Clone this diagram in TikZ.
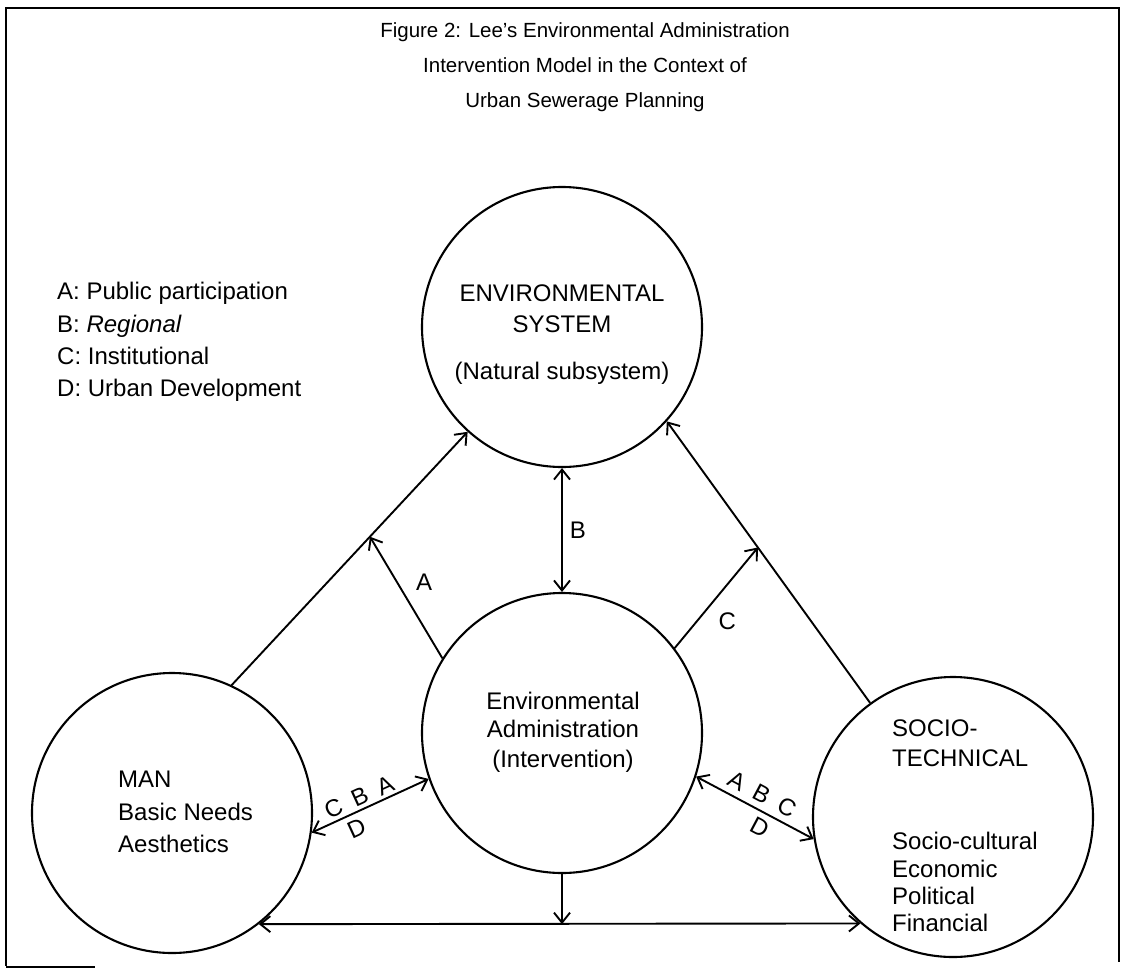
\documentclass[tikz,border=0pt]{standalone}
\usepackage{fontspec}
\setmainfont{Liberation Sans}
\usetikzlibrary{arrows.meta,calc}
\begin{document}
\begin{tikzpicture}[x=1pt,y=-1pt,
  circ/.style={circle, draw, line width=2.1pt, minimum size=280pt, inner sep=0pt},
  conn/.style={line width=1.9pt},
  tip/.tip={Straight Barb[length=10pt,width=16pt]},
  arr/.style={conn, -tip},
  dbl/.style={conn, tip-tip},
  txt/.style={font=\fontsize{24}{28}\selectfont, inner sep=0pt},
  ttl/.style={font=\fontsize{20.5}{24}\selectfont, inner sep=0pt, anchor=base},
  lbl/.style={font=\fontsize{24}{28}\selectfont, inner sep=1pt},
  frame/.style={line width=1.6pt}
]
\useasboundingbox (0,0) rectangle (1123,971);
% frame
\draw[frame] (6,966) -- (6,8) -- (1119,8) -- (1119,962);
\draw[frame] (6,967) -- (95,967);
% title
\node[ttl] (title1) at (585,38) {Figure 2: Lee's Environmental Administration};
\node[ttl] (title2) at (585,73) {Intervention Model in the Context of};
\node[ttl] (title3) at (585,108) {Urban Sewerage Planning};
% legend
\node[txt, anchor=base west] (leg1) at (57,299) {A: Public participation};
\node[txt, anchor=base west] (leg2) at (57,332) {B: \textit{Regional}};
\node[txt, anchor=base west] (leg3) at (57,364) {C: Institutional};
\node[txt, anchor=base west] (leg4) at (57,396) {D: Urban Development};
% circles
\node[circ] (top) at (562,327) {};
\node[circ] (adm) at (562,733) {};
\node[circ] (man) at (172,813) {};
\node[circ] (soc) at (953,817) {};
% circle texts
\node[txt, anchor=base] (env1) at (562,301) {ENVIRONMENTAL};
\node[txt, anchor=base] (env2) at (562,332) {SYSTEM};
\node[txt, anchor=base] (env3) at (562,379) {(Natural subsystem)};
\node[txt, anchor=base] (adm1) at (563,709) {Environmental};
\node[txt, anchor=base] (adm2) at (563,737) {Administration};
\node[txt, anchor=base] (adm3) at (563,767) {(Intervention)};
\node[txt, anchor=base west] (man1) at (118,787) {MAN};
\node[txt, anchor=base west] (man2) at (118,820) {Basic Needs};
\node[txt, anchor=base west] (man3) at (118,852) {Aesthetics};
\node[txt, anchor=base west] (soc1) at (892,736) {SOCIO-};
\node[txt, anchor=base west] (soc2) at (892,766) {TECHNICAL};
\node[txt, anchor=base west] (soc3) at (892,849) {Socio-cultural};
\node[txt, anchor=base west] (soc4) at (892,877) {Economic};
\node[txt, anchor=base west] (soc5) at (892,904) {Political};
\node[txt, anchor=base west] (soc6) at (892,931) {Financial};
% connectors
\draw[arr] (man.65.3) -- (top.228.4) coordinate[pos=0.586] (pa);
\draw[arr] (soc.126) -- (top.-42.4) coordinate[pos=0.552] (pc);
\draw[arr] (adm.148.4) -- (pa) node[lbl, pos=0.5, xshift=18pt, yshift=15pt] (la) {A};
\draw[arr] (adm.37.8) -- (pc) node[lbl, pos=0.5, xshift=11pt, yshift=-23pt] (lc) {C};
\draw[dbl] (top.south) -- (adm.north) node[lbl, midway, right=6pt] (lb) {B};
\draw[dbl] (man.-8.1) -- (adm.199.6)
  node[lbl, sloped, pos=0.45, above=2pt] (lcba) {C\hspace{0.5em}B\hspace{0.5em}A}
  node[lbl, sloped, pos=0.33, below=5pt] (ld1) {D};
\draw[dbl] (adm.-18.3) -- (soc.189.6)
  node[lbl, sloped, pos=0.5, above=5pt] (labc) {A\hspace{0.5em}B\hspace{0.5em}C}
  node[lbl, sloped, pos=0.6, below=5pt] (ld2) {D};
\draw[dbl] (man.-52.6) -- (soc.229.9);
\draw[arr] (adm.south) -- (adm.south |- man.-52.6);
\end{tikzpicture}
\end{document}
